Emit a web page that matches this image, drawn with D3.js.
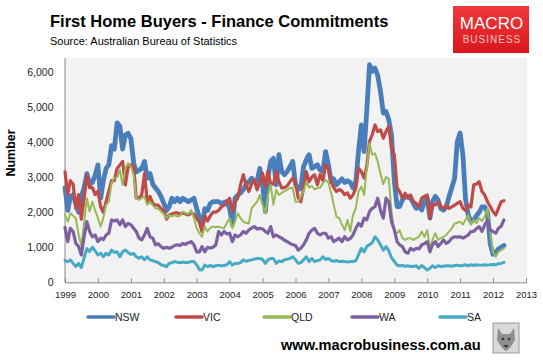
<!DOCTYPE html>
<html>
<head>
<meta charset="utf-8">
<script src="https://cdn.jsdelivr.net/npm/d3@7"></script>
<style>
  body { margin: 0; background: #fff; }
  svg { display: block; font-family: "Liberation Sans", Arial, sans-serif; }
</style>
</head>
<body>
<div id="chart"></div>
<script>
// monthly first home buyer finance commitments, Jan 1999 - May 2012
const firstMonth = new Date(1999, 0, 1);
const yearTicks = d3.range(1999, 2014);
const valueTicks = [0, 1000, 2000, 3000, 4000, 5000, 6000];
const seriesNames = ['NSW', 'VIC', 'QLD', 'WA', 'SA'];

const nsw = [
  2700, 2050, 2450, 2500, 2250, 2000, 2450, 2700, 3100, 2800, 2850, 3050,
  3350, 2400, 2900, 3250, 3350, 3900, 3800, 4550, 4450, 3800, 4200, 4250,
  4100, 3400, 3150, 3200, 3250, 3450, 2970, 3100, 2800, 2690, 2590, 2450,
  2250, 2050, 2150, 2400, 2300, 2400, 2300, 2400, 2350, 2300, 2350, 2400,
  2100, 1850, 1550, 2100, 2050, 2250, 2300, 2300, 2300, 2250, 2280, 2300,
  2100, 1650, 2400, 2490, 2550, 2650, 2780, 2870, 2970, 2870, 2900, 3250,
  2780, 2020, 3000, 3450, 3540, 2780, 3640, 3160, 3070, 3160, 3300, 3450,
  2800, 2650, 2700, 3300, 3500, 3640, 3250, 3300, 3350, 3200, 3160, 3730,
  3350, 2870, 2950, 2780, 2870, 2950, 2850, 2900, 2850, 2690, 2870, 3730,
  4490, 3730, 4870, 6210, 6020, 6110, 5900, 5450, 4830, 4870, 4640, 4200,
  2900, 2160, 2160, 2350, 2450, 2450, 2400, 2250, 2110, 2200, 2060, 2300,
  2400, 1830, 2300, 2450, 2350, 2100, 2060, 2150, 2450, 2700, 2970, 4020,
  4260, 3640, 2400, 1920, 1730, 1780, 1900, 2000, 2150, 2150, 2000, 1100,
  800, 850, 950, 1000, 1050
];
const vic = [
  3150, 2500, 2900, 2800, 2100, 2500, 1800, 2400, 3050, 2700, 2700, 2500,
  2600, 2150, 2000, 2300, 2600, 2900, 2900, 3250, 3350, 3450, 2780, 3300,
  3350, 3300, 2400, 2400, 2500, 3100, 2300, 2450, 2250, 2200, 2200, 2100,
  2050, 1800, 1920, 1950, 1980, 1980, 1950, 1980, 1950, 1920, 1980, 1950,
  1830, 1700, 1450, 1900, 1750, 1900, 2000, 2000, 2050, 2150, 2200, 2300,
  2400, 2020, 2300, 2400, 2780, 3070, 2780, 2590, 2800, 2920, 2640, 2870,
  3110, 2730, 3160, 2800, 2800, 3160, 2870, 2690, 2700, 2750, 2870, 2970,
  2850, 2400, 2300, 2690, 3160, 2870, 3000, 3070, 2780, 3070, 2900, 3350,
  3250, 2870, 2700, 2590, 2650, 2600, 2500, 2550, 2400, 2490, 2690, 3250,
  3160, 2970, 3300, 4020, 4210, 4490, 4300, 4350, 4110, 4300, 4450, 3830,
  3640, 2690, 2590, 2400, 2540, 2400, 2490, 2300, 2250, 2160, 2400, 2450,
  2490, 1830, 2210, 2210, 2300, 2150, 2110, 2200, 2110, 2150, 2200, 2250,
  2300, 2110, 2050, 2210, 2150, 2780, 2800, 2870, 2590, 2490, 2300, 2160,
  2020, 1920, 2110, 2300, 2330
];
const qld = [
  1920, 1730, 1970, 1900, 1830, 1350, 1050, 1700, 2400, 2020, 2300, 2050,
  1830, 1590, 1830, 2210, 2300, 2850, 2970, 3000, 3210, 2780, 3250, 3400,
  3300, 3070, 2400, 2350, 2400, 2450, 2210, 2300, 2200, 2110, 2100, 2020,
  1950, 1830, 1920, 1880, 1920, 1880, 1900, 2020, 1970, 1950, 2060, 1830,
  1540, 1400, 1300, 1590, 1450, 1550, 1590, 1570, 1590, 1560, 1540, 1700,
  1830, 1540, 1730, 1970, 1830, 1730, 1700, 1680, 2110, 2210, 2300, 2490,
  2210, 1970, 2490, 2780, 2210, 2640, 2490, 2550, 2600, 2640, 2690, 2700,
  2300, 2300, 2450, 2590, 2870, 2700, 2750, 2650, 2690, 2700, 2830, 2920,
  2850, 2540, 2210, 1870, 1830, 1640, 1490, 1780, 1450, 1920, 2110, 2590,
  2730, 2490, 3250, 3970, 3640, 3680, 3450, 3100, 2800, 3000, 2950, 2020,
  1450, 1400, 1490, 1260, 1210, 1260, 1260, 1210, 1260, 1300, 1450, 1300,
  1490, 970, 1210, 1400, 1210, 1260, 1300, 1350, 1450, 1540, 1680, 1700,
  1730, 1650, 1780, 1920, 1640, 1780, 1680, 1830, 1750, 1870, 2100, 1450,
  870, 730, 870, 920, 970
];
const wa = [
  1560, 1160, 1540, 1450, 1110, 1020, 780, 1300, 1730, 1450, 1300, 1350,
  1160, 1260, 1220, 1350, 1400, 1780, 1750, 1780, 1640, 1780, 1590, 1680,
  1640, 1540, 1450, 1260, 1210, 1350, 1540, 1300, 1260, 1070, 1100, 1020,
  970, 1000, 970, 1000, 1050, 1070, 1050, 1110, 1080, 1130, 1160, 1070,
  870, 870, 1020, 870, 1000, 980, 1000, 1070, 1450, 1350, 1450, 1380,
  1400, 1160, 1350, 1300, 1350, 1450, 1400, 1490, 1550, 1590, 1520, 1540,
  1520, 1450, 1400, 1590, 1300, 1350, 1300, 1260, 1200, 1160, 1110, 1070,
  1050, 920, 970, 1070, 1210, 1400, 1490, 1540, 1400, 1350, 1400, 1400,
  1260, 1300, 1160, 1210, 1260, 1160, 1300, 1210, 1250, 1350, 1540, 1680,
  1600, 1830, 1780, 2020, 2110, 2160, 2400, 2050, 1830, 2400, 2300, 1730,
  1500, 1160, 1070, 1020, 870, 830, 970, 920, 970, 950, 1070, 1100,
  1160, 870, 1070, 1160, 1020, 1110, 1210, 1110, 1160, 1260, 1300, 1290,
  1300, 1260, 1300, 1350, 1450, 1450, 1530, 1590, 1450, 1640, 1780, 1490,
  1450, 1400, 1540, 1600, 1780
];
const sa = [
  620, 590, 640, 540, 450, 540, 420, 700, 960, 880, 1000, 900,
  780, 830, 730, 830, 780, 920, 850, 870, 730, 870, 920, 850,
  800, 820, 730, 690, 730, 640, 730, 640, 620, 590, 560, 500,
  480, 450, 540, 560, 590, 570, 560, 580, 560, 570, 590, 590,
  500, 360, 350, 490, 450, 480, 450, 470, 490, 470, 480, 500,
  590, 490, 540, 540, 560, 640, 600, 620, 640, 660, 680, 680,
  650, 540, 640, 680, 680, 540, 610, 590, 640, 660, 680, 730,
  640, 540, 560, 640, 730, 590, 680, 590, 620, 640, 730, 650,
  680, 620, 600, 620, 590, 600, 590, 580, 590, 590, 620, 780,
  970, 870, 1020, 1080, 1130, 1300, 1210, 1070, 920, 1020, 900, 700,
  600, 490, 470, 480, 460, 470, 450, 450, 470, 400, 480, 420,
  350, 400, 470, 420, 470, 450, 460, 470, 470, 460, 480, 490,
  470, 480, 500, 470, 500, 480, 500, 490, 490, 500, 490, 500,
  510, 500, 530, 540, 570
];

const seriesValues = [nsw, vic, qld, wa, sa];
const colors = ['#4a7ebb', '#be4b48', '#98b954', '#7d60a0', '#46aac5'];
const widths = [4.8, 3.2, 2, 3.2, 3];

const width = 543;
const height = 362;
const plot = { left: 65, right: 526, top: 58, bottom: 282.3 };

const svg = d3.select('#chart').append('svg')
    .attr('width', width)
    .attr('height', height);

const x = d3.scaleTime()
    .domain([new Date(1999, 0, 1), new Date(2013, 0, 1)])
    .range([plot.left, plot.right]);

const y = d3.scaleLinear()
    .domain([0, 6400])
    .range([plot.bottom, plot.top]);

// plot background
svg.append('rect')
    .attr('x', plot.left)
    .attr('y', plot.top)
    .attr('width', plot.right - plot.left + 1)
    .attr('height', plot.bottom - plot.top)
    .attr('fill', '#f2f2f2');

// title block
svg.append('text')
    .attr('x', 50)
    .attr('y', 27)
    .attr('font-size', 16.5)
    .attr('font-weight', 'bold')
    .attr('fill', '#000')
    .text('First Home Buyers - Finance Commitments');

svg.append('text')
    .attr('x', 50)
    .attr('y', 44.5)
    .attr('font-size', 11)
    .attr('fill', '#000')
    .text('Source: Australian Bureau of Statistics');

// macro business badge
const grad = svg.append('defs').append('linearGradient')
    .attr('id', 'badge')
    .attr('x1', 0).attr('y1', 0).attr('x2', 0).attr('y2', 1);
grad.append('stop').attr('offset', '0%').attr('stop-color', '#f03a3c');
grad.append('stop').attr('offset', '100%').attr('stop-color', '#d9161d');

svg.append('rect')
    .attr('x', 453)
    .attr('y', 6)
    .attr('width', 76)
    .attr('height', 47)
    .attr('fill', 'url(#badge)');

svg.append('text')
    .attr('x', 491.5)
    .attr('y', 29)
    .attr('text-anchor', 'middle')
    .attr('font-size', 17)
    .attr('font-family', '"Liberation Sans Narrow", "Liberation Sans", sans-serif')
    .attr('fill', '#fff')
    .text('MACRO');

svg.append('text')
    .attr('x', 492)
    .attr('y', 43)
    .attr('text-anchor', 'middle')
    .attr('font-size', 10)
    .attr('letter-spacing', 1)
    .attr('font-family', '"Liberation Sans Narrow", "Liberation Sans", sans-serif')
    .attr('fill', '#f8c6c6')
    .text('BUSINESS');

// y axis
svg.append('line')
    .attr('x1', plot.left).attr('x2', plot.left)
    .attr('y1', plot.top).attr('y2', plot.bottom)
    .attr('stroke', '#868686');

svg.append('g')
    .selectAll('text')
    .data(valueTicks)
    .enter().append('text')
    .attr('x', 53.5)
    .attr('y', d => y(d))
    .attr('dy', '0.35em')
    .attr('text-anchor', 'end')
    .attr('font-size', 10.5)
    .attr('fill', '#222')
    .text(d => d3.format(',')(d));

svg.append('text')
    .attr('transform', 'translate(15,153) rotate(-90)')
    .attr('text-anchor', 'middle')
    .attr('font-size', 12.5)
    .attr('font-weight', 'bold')
    .attr('fill', '#000')
    .text('Number');

// x axis
const xAxis = d3.axisBottom(x)
    .tickValues(yearTicks.map(d => new Date(d, 0, 1)))
    .tickSize(-4)
    .tickFormat(d3.timeFormat('%Y'));

const gx = svg.append('g')
    .attr('transform', `translate(0,${plot.bottom})`)
    .call(xAxis);
gx.select('.domain').attr('stroke', '#868686');
gx.selectAll('.tick line').attr('stroke', '#868686');
gx.selectAll('.tick text')
    .attr('font-family', '"Liberation Sans", Arial, sans-serif')
    .attr('font-size', 9.5)
    .attr('fill', '#222')
    .attr('y', 9);

// series lines
const line = d3.line()
    .x((d, i) => x(d3.timeMonth.offset(firstMonth, i)))
    .y(d => y(d));

svg.append('g')
    .selectAll('path')
    .data(seriesValues)
    .enter().append('path')
    .attr('d', d => line(d))
    .attr('fill', 'none')
    .attr('stroke', (d, i) => colors[i])
    .attr('stroke-width', (d, i) => widths[i])
    .attr('stroke-linejoin', 'round')
    .attr('stroke-linecap', 'round');

// legend
const legend = svg.append('g')
    .selectAll('g')
    .data(seriesNames)
    .enter().append('g')
    .attr('transform', (d, i) => `translate(${88 + i * 88},317)`);

legend.append('line')
    .attr('x1', 0).attr('x2', 26)
    .attr('stroke', (d, i) => colors[i])
    .attr('stroke-width', 3.5)
    .attr('stroke-linecap', 'round');

legend.append('text')
    .attr('x', 27)
    .attr('dy', '0.35em')
    .attr('font-size', 10.5)
    .attr('fill', '#222')
    .text(d => d);

// footer
svg.append('text')
    .attr('x', 281)
    .attr('y', 349.5)
    .attr('font-size', 14.6)
    .attr('font-weight', 'bold')
    .attr('fill', '#000')
    .text('www.macrobusiness.com.au');

// small wolf badge
const wolf = svg.append('g').attr('transform', 'translate(493,323)');
wolf.append('rect')
    .attr('width', 26).attr('height', 30)
    .attr('fill', '#d9d9d9')
    .attr('stroke', '#9a9a9a');
wolf.append('path')
    .attr('d', 'M5,5 L9,11 L17,11 L21,5 L22,17 L17,25 L13,28 L9,25 L4,17 Z')
    .attr('fill', '#8f8f8f');
wolf.append('circle').attr('cx', 10).attr('cy', 16).attr('r', 1.3).attr('fill', '#333');
wolf.append('circle').attr('cx', 16).attr('cy', 16).attr('r', 1.3).attr('fill', '#333');
wolf.append('path')
    .attr('d', 'M10.5,22 L15.5,22 L13,25 Z')
    .attr('fill', '#333');
</script>
</body>
</html>
